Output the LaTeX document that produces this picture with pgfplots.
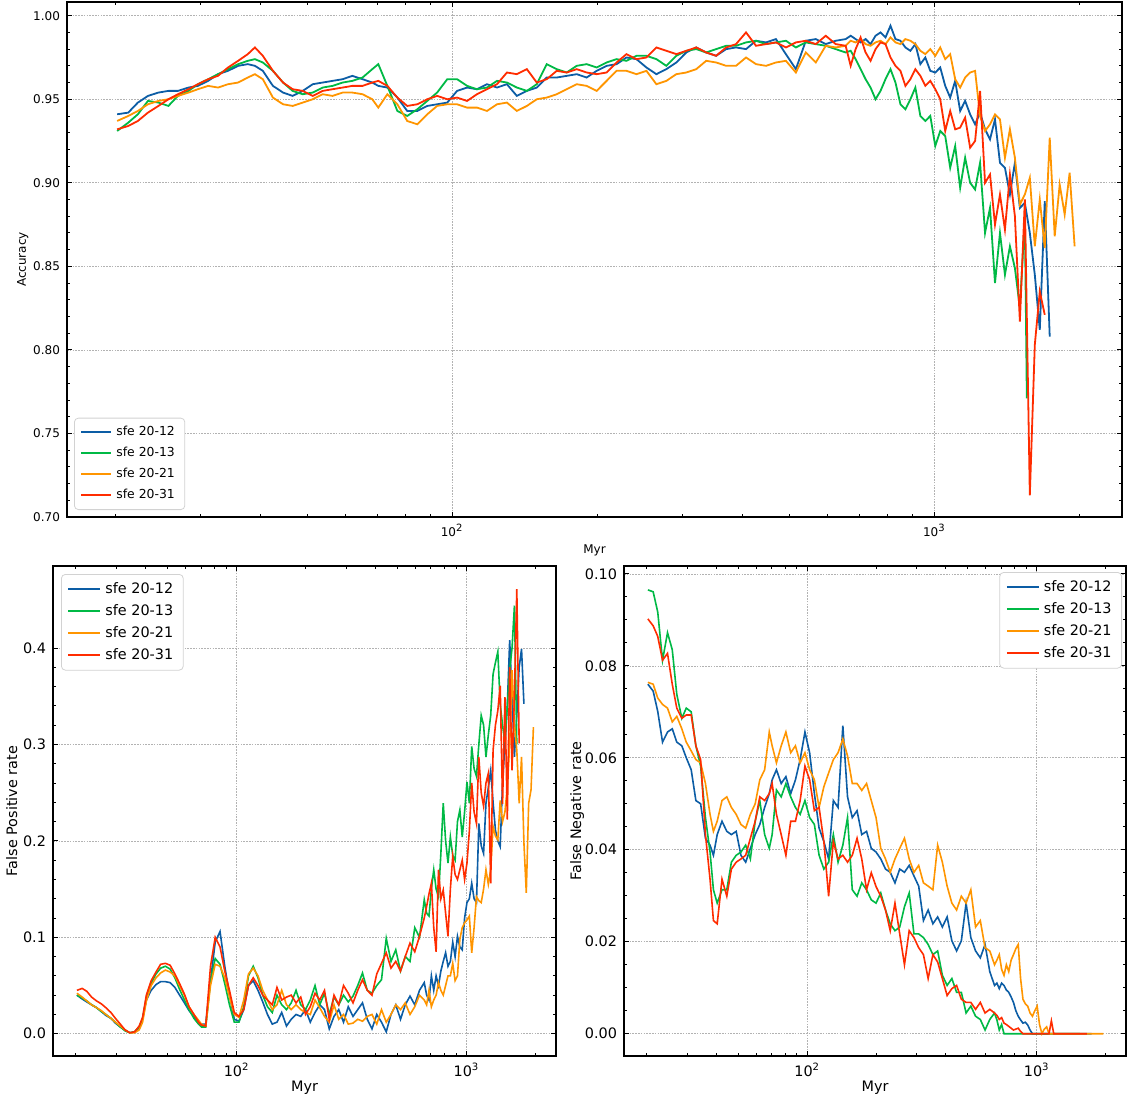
\documentclass[border=0pt]{standalone}
\usepackage{fontspec}
\setmainfont{DejaVu Sans}
\usepackage{pgfplots}
\usepackage{pgfplotstable}
\pgfplotsset{compat=1.18}
\pgfkeys{/pgf/number format/assume math mode=true}

\definecolor{cB}{HTML}{0C5DA5}
\definecolor{cG}{HTML}{00B945}
\definecolor{cO}{HTML}{FF9500}
\definecolor{cR}{HTML}{FF2C00}

% accuracy: x = Myr, b/g/o/r = sfe 20-12, 20-13, 20-21, 20-31
\pgfplotstableread{
x b g o r
20.2 .941 .931 .937 .932
21.3 .942 .936 .940 .934
22.3 .948 .941 .943 .937
23.4 .952 .949 .947 .942
24.6 .954 .948 .949 .946
25.8 .955 .946 .950 .950
27.0 .955 .952 .952 .953
28.4 .957 .955 .954 .956
29.7 .958 .959 .956 .959
31.2 .961 .962 .958 .962
32.7 .965 .965 .957 .964
34.3 .967 .968 .959 .969
36.0 .970 .971 .960 .973
37.7 .971 .973 .963 .977
39.0 .970 .974 .965 .981
40.5 .967 .972 .962 .976
42.5 .958 .967 .951 .967
44.6 .954 .960 .947 .960
46.7 .952 .955 .946 .956
49.0 .955 .953 .948 .955
51.4 .959 .954 .950 .952
53.9 .960 .957 .953 .955
56.5 .961 .958 .952 .956
59.3 .962 .960 .954 .957
62.1 .964 .961 .954 .958
65.2 .962 .963 .953 .958
68.3 .960 .968 .950 .960
70.3 .958 .971 .945 .961
73.4 .957 .958 .953 .958
77.0 .951 .943 .947 .951
80.7 .943 .940 .937 .946
84.7 .943 .944 .935 .947
88.8 .946 .949 .941 .950
93.1 .947 .954 .946 .952
97.7 .948 .962 .947 .950
102.4 .955 .962 .947 .951
107.4 .957 .958 .945 .949
112.6 .956 .956 .945 .953
118.1 .959 .957 .943 .956
123.9 .957 .961 .947 .959
129.9 .959 .960 .948 .966
136.2 .952 .957 .943 .965
142.9 .955 .955 .946 .968
149.8 .957 .959 .950 .960
157.1 .963 .971 .951 .962
164.8 .963 .968 .953 .967
172.8 .964 .966 .956 .966
181.3 .965 .970 .959 .968
190.1 .963 .971 .958 .966
199.4 .967 .969 .955 .965
209.1 .970 .972 .961 .966
219.3 .971 .974 .967 .972
229.9 .975 .973 .967 .977
241.1 .974 .976 .965 .974
252.9 .969 .976 .967 .975
265.2 .965 .974 .959 .981
278.1 .968 .970 .961 .979
291.7 .972 .976 .965 .977
305.9 .978 .979 .966 .979
320.8 .981 .980 .968 .981
336.4 .978 .978 .973 .978
352.8 .976 .980 .972 .976
370.0 .980 .982 .970 .981
388.0 .981 .982 .970 .983
406.9 .980 .984 .975 .990
426.7 .985 .985 .971 .982
447.5 .984 .983 .970 .983
469.3 .986 .984 .972 .984
492.2 .977 .985 .973 .981
516.2 .968 .981 .966 .984
541.3 .985 .984 .978 .985
567.7 .986 .983 .972 .983
595.4 .983 .982 .982 .988
624.4 .985 .980 .981 .983
654.8 .986 .978 .982 .982
670.6 .988 .979 .985 .970
686.7 .986 .974 .984 .980
703.2 .984 .968 .986 .987
720.2 .986 .962 .983 .978
737.5 .983 .957 .982 .973
755.2 .988 .950 .984 .980
773.4 .990 .955 .985 .984
792.0 .987 .962 .983 .983
811.0 .994 .968 .987 .975
830.5 .986 .960 .984 .970
850.5 .985 .947 .983 .967
870.9 .981 .944 .986 .958
891.9 .979 .950 .985 .962
913.3 .983 .957 .983 .968
935.3 .971 .940 .979 .964
957.8 .975 .937 .977 .958
980.8 .967 .940 .980 .961
1004.4 .966 .922 .976 .956
1028.5 .969 .931 .981 .950
1053.3 .958 .928 .974 .931
1078.6 .951 .909 .977 .943
1104.6 .961 .922 .962 .932
1131.1 .943 .897 .957 .933
1158.3 .949 .915 .963 .939
1186.2 .941 .900 .966 .921
1214.7 .935 .896 .967 .925
1243.9 .942 .912 .940 .955
1273.8 .932 .870 .931 .900
1304.5 .926 .885 .935 .905
1335.8 .938 .840 .941 .875
1367.9 .912 .870 .938 .893
1400.8 .909 .845 .915 .872
1434.5 .893 .862 .932 .905
1469.0 .912 .849 .915 .880
1504.4 .885 .825 .887 .817
1540.5 .888 .879 .893 .890
1555.2 nan .771 nan nan
1577.6 .870 nan .903 .713
1615.5 .845 nan .862 .803
1654.4 .812 nan .890 .835
1694.2 .889 nan .861 .821
1734.9 .808 nan .927 nan
1776.7 nan nan .868 nan
1819.4 nan nan .899 nan
1863.2 nan nan .881 nan
1908.0 nan nan .906 nan
1953.9 nan nan .862 nan
}\acc

% false positive rate
\pgfplotstableread{
x b g o r
20.2 .040 .040 .042 .045
21.3 .036 .037 .038 .047
22.3 .033 .034 .034 .044
23.4 .030 .030 .030 .038
24.6 .027 .027 .027 .034
25.8 .023 .023 .024 .031
27.0 .019 .020 .020 .027
28.4 .016 .016 .016 .022
29.7 .011 .012 .012 .016
31.2 .007 .007 .008 .010
32.7 .004 .003 .004 .004
34.3 .001 .001 .001 .001
36.0 .002 .002 .001 .002
37.7 .006 .007 .004 .008
39.0 .015 .016 .012 .017
40.5 .035 .038 .034 .040
42.5 .045 .052 .050 .055
44.6 .051 .062 .058 .064
46.7 .054 .068 .063 .072
49.0 .054 .070 .066 .073
51.4 .053 .067 .064 .071
53.9 .048 .058 .060 .062
56.5 .040 .046 .050 .052
59.3 .032 .035 .040 .041
62.1 .024 .025 .028 .028
65.2 .018 .016 .020 .020
68.3 .012 .010 .014 .012
70.3 .010 .007 .010 .009
73.4 .010 .007 .008 .008
77.0 .055 .055 .050 .070
80.7 .095 .078 .072 .100
84.7 .106 .072 .070 .090
88.8 .070 .052 .058 .065
93.1 .040 .030 .038 .045
97.7 .015 .012 .020 .022
102.4 .013 .012 .017 .018
107.4 .025 .028 .035 .025
112.6 .050 .060 .062 .050
118.1 .055 .070 .068 .058
123.9 .045 .058 .060 .050
129.9 .033 .040 .045 .040
136.2 .020 .028 .035 .035
142.9 .010 .022 .025 .030
149.8 .012 .040 .030 .048
157.1 .022 .030 .045 .035
164.8 .008 .025 .030 .038
172.8 .015 .032 .025 .040
181.3 .020 .045 .030 .032
190.1 .018 .030 .025 .038
199.4 .025 .025 .022 .020
209.1 .012 .035 .020 .028
219.3 .022 .050 .035 .042
229.9 .030 .030 .027 .035
241.1 .025 .042 .018 .045
252.9 .005 .020 .012 .015
265.2 .018 .038 .030 .040
278.1 .025 .030 .015 .030
291.7 .012 .040 .020 .050
305.9 .028 .033 .010 .042
320.8 .018 .039 .011 .032
336.4 .025 .050 .015 .045
352.8 .032 .063 .013 .056
370.0 .015 .045 .018 .045
388.0 .005 .042 .020 .040
406.9 .020 .050 .010 .062
426.7 .012 .056 .025 .073
447.5 .002 .099 .012 .084
469.3 .020 .075 .020 .068
492.2 .030 .087 .030 .075
516.2 .015 .065 .025 .065
541.3 .030 .080 .032 .080
567.7 .039 .075 .020 .094
595.4 .030 .110 .028 .085
624.4 .045 .100 .040 .101
654.8 .053 .139 .035 .120
670.6 .040 .125 .030 .132
686.7 .035 .122 .045 .145
703.2 .060 .150 .028 .156
720.2 .045 .170 .035 .110
737.5 .060 .150 .040 .085
755.2 .050 .142 .053 .170
773.4 .065 .187 .045 .140
792.0 .075 .239 .040 .149
811.0 .084 .200 .050 .125
830.5 .070 .177 .060 .101
850.5 .075 .204 .060 .150
870.9 .095 .185 .073 .184
891.9 .080 .180 .055 .165
913.3 .101 .220 .060 .160
935.3 .090 .232 .098 .170
957.8 .087 .204 .110 .180
980.8 .120 .230 .115 .160
1004.4 .136 .261 .118 .177
1028.5 .140 .239 .122 .210
1053.3 .156 .298 .084 .260
1078.6 .140 .275 .110 .230
1104.6 .136 .267 .142 .218
1131.1 .218 .300 .138 .287
1158.3 .195 .330 .136 .250
1186.2 .187 .320 .150 .236
1214.7 .239 .287 .170 .260
1243.9 .255 .310 .155 .270
1273.8 .273 .330 .170 .156
1304.5 .240 .373 .215 .294
1335.8 .211 .385 .205 .320
1367.9 .200 .396 .201 .335
1400.8 .194 .342 .242 .361
1434.5 .260 .320 .220 .238
1469.0 .300 .301 .230 .349
1504.4 .340 .340 .256 .222
1540.5 .408 .377 .300 .380
1577.6 .349 .400 .377 .273
1615.5 .287 .444 .320 .350
1654.4 .330 .300 .294 .461
1694.2 .380 nan .239 .301
1734.9 .399 nan .287 nan
1776.7 .342 nan .198 nan
1819.4 nan nan .146 nan
1863.2 nan nan .239 nan
1908.0 nan nan .253 nan
1953.9 nan nan .318 nan
}\fpr

% false negative rate
\pgfplotstableread{
x b g o r
20.2 .0760 .0965 .0764 .0902
21.3 .0745 .0961 .0760 .0887
22.3 .0701 .0917 .0730 .0864
23.4 .0634 .0812 .0716 .0812
24.6 .0656 .0872 .0708 .0827
25.8 .0663 .0835 .0678 .0760
27.0 .0634 .0738 .0690 .0708
28.4 .0626 .0686 .0663 .0686
29.7 .0600 .0708 .0634 .0693
31.2 .0574 .0700 .0615 .0693
32.7 .0507 .0626 .0596 .0626
34.3 .0500 .0582 .0589 .0596
36.0 .0425 .0470 .0544 .0433
37.7 .0410 .0395 .0477 .0336
39.0 .0388 .0313 .0440 .0246
40.5 .0433 .0284 .0462 .0239
42.5 .0462 .0313 .0507 .0336
44.6 .0440 .0313 .0515 .0299
46.7 .0433 .0373 .0492 .0358
49.0 .0440 .0388 .0477 .0373
51.4 .0388 .0395 .0455 .0380
53.9 .0373 .0410 .0447 .0388
56.5 .0403 .0380 .0477 .0425
59.3 .0433 .0462 .0500 .0462
62.1 .0455 .0507 .0552 .0515
65.2 .0492 .0433 .0574 .0507
68.3 .0522 .0403 .0656 .0522
70.3 .0552 .0433 .0626 .0544
73.4 .0574 .0530 .0589 .0477
77.0 .0544 .0515 .0626 .0433
80.7 .0559 .0544 .0656 .0388
84.7 .0522 .0515 .0611 .0462
88.8 .0552 .0492 .0626 .0462
93.1 .0596 .0477 .0589 .0507
97.7 .0656 .0507 .0611 .0582
102.4 .0611 .0470 .0574 .0552
107.4 .0522 .0455 .0552 .0485
112.6 .0447 .0388 .0492 .0492
118.1 .0418 .0358 .0537 .0418
123.9 .0380 .0373 .0567 .0299
129.9 .0507 .0433 .0596 .0418
136.2 .0492 .0373 .0611 .0380
142.9 .0670 .0410 .0641 .0388
149.8 .0515 .0470 .0604 .0373
157.1 .0470 .0313 .0544 .0388
164.8 .0485 .0299 .0544 .0425
172.8 .0433 .0328 .0529 .0380
181.3 .0440 .0313 .0544 .0313
190.1 .0403 .0291 .0507 .0350
199.4 .0395 .0284 .0470 .0320
209.1 .0380 .0306 .0403 .0299
219.3 .0358 .0269 .0380 .0269
229.9 .0351 .0239 .0351 .0224
241.1 .0328 .0224 .0380 .0284
252.9 .0358 .0232 .0403 .0217
265.2 .0351 .0276 .0425 .0150
278.1 .0366 .0306 .0380 .0224
291.7 .0343 .0217 .0351 .0209
305.9 .0321 .0217 .0366 .0187
320.8 .0246 .0209 .0328 .0172
336.4 .0269 .0194 .0321 .0120
352.8 .0239 .0172 .0313 .0172
370.0 .0254 .0180 .0410 .0156
388.0 .0232 .0127 .0373 .0120
406.9 .0254 .0105 .0321 .0083
426.7 .0202 .0120 .0284 .0098
447.5 .0180 .0090 .0269 .0105
469.3 .0202 .0090 .0299 .0075
492.2 .0284 .0045 .0284 .0068
516.2 .0209 .0060 .0313 .0068
541.3 .0180 .0038 .0232 .0053
567.7 .0165 .0031 .0246 .0068
595.4 .0194 .0008 .0187 .0045
624.4 .0135 .0031 .0180 .0053
654.8 .0105 .0045 .0150 .0045
670.6 .0110 .0030 .0160 .0040
686.7 .0098 .0008 .0172 .0031
703.2 .0110 .0020 .0140 .0035
720.2 .0105 .0000 .0127 .0023
737.5 .0095 .0000 .0150 .0020
755.2 .0090 .0000 .0135 .0016
773.4 .0080 .0000 .0160 .0012
792.0 .0068 .0000 .0172 .0008
811.0 .0050 .0000 .0185 .0010
830.5 .0038 .0000 .0194 .0012
850.5 .0030 .0000 .0120 .0005
870.9 .0023 .0000 .0075 .0000
891.9 .0025 .0000 .0065 .0000
913.3 .0019 .0000 .0060 .0000
935.3 .0008 .0000 .0045 .0000
957.8 .0000 .0000 .0038 .0000
980.8 .0000 .0000 .0050 .0000
1004.4 .0000 .0000 .0060 .0000
1028.5 .0000 .0000 .0020 .0000
1053.3 .0000 .0000 .0000 .0000
1078.6 .0000 .0000 .0010 .0000
1104.6 .0000 .0000 .0015 .0000
1131.1 .0000 .0000 .0000 .0000
1158.3 .0000 .0000 .0000 .0028
1186.2 .0000 .0000 .0000 .0000
1243.9 .0000 .0000 .0000 .0000
1367.9 .0000 .0000 .0000 .0000
1540.5 .0000 .0000 .0000 .0000
1654.4 .0000 nan .0000 .0000
1734.9 .0000 nan .0000 nan
1953.9 nan nan .0000 nan
}\fnr

\pgfplotsset{
  every axis/.append style={
    scale only axis,
    xmin=15.9, xmax=2450,
    xtick={100,1000},
    xticklabels={10\textsuperscript{2},10\textsuperscript{3}},
    minor xtick={20,30,40,50,60,70,80,90,200,300,400,500,600,700,800,900,2000},
    tick align=inside,
    major tick length=2.5pt, minor tick length=1.4pt,
    every tick/.style={black, line width=0.45pt},
    axis line style={black, line width=0.6pt},
    grid=major,
    major grid style={gray!60, line width=0.3pt, dash pattern=on 0.8pt off 0.6pt},
    scaled y ticks=false,
    xlabel={Myr},
    legend cell align=left,
  },
}

\begin{document}
\begin{tikzpicture}
\path[use as bounding box] (0,0) rectangle (563.5pt,549.5pt);

\begin{semilogxaxis}[
  at={(33.5pt,291pt)}, anchor=south west,
  width=527.5pt, height=257.5pt,
  ymin=0.70, ymax=1.0082,
  ytick={0.70,0.75,0.80,0.85,0.90,0.95,1.00}, minor y tick num=4,
  yticklabel style={/pgf/number format/fixed, /pgf/number format/fixed zerofill, /pgf/number format/precision=2},
  tick label style={font=\fontsize{6}{7}\selectfont},
  label style={font=\fontsize{6}{7}\selectfont},
  ylabel={Accuracy}, ylabel shift=-4.5pt, xlabel shift=-3pt,
  legend image code/.code={\draw[#1, line width=1pt] (0pt,0pt) -- (15pt,0pt);},
  legend style={font=\fontsize{6.2}{7.5}\selectfont, at={(0,0)}, anchor=south west,
    xshift=3.5pt, yshift=3.5pt, row sep=0.3pt, draw=gray!35, rounded corners=2pt,
    fill=white},
]
\addplot[cB, line width=0.9pt] table[x=x, y=b] {\acc};
\addplot[cG, line width=0.9pt] table[x=x, y=g] {\acc};
\addplot[cO, line width=0.9pt] table[x=x, y=o] {\acc};
\addplot[cR, line width=0.9pt] table[x=x, y=r] {\acc};
\legend{sfe 20-12, sfe 20-13, sfe 20-21, sfe 20-31}
\end{semilogxaxis}

\begin{semilogxaxis}[
  at={(26.5pt,21.5pt)}, anchor=south west,
  width=251.5pt, height=245pt,
  ymin=-0.0231, ymax=0.485,
  ytick={0,0.1,0.2,0.3,0.4}, minor y tick num=4,
  yticklabel style={/pgf/number format/fixed, /pgf/number format/fixed zerofill, /pgf/number format/precision=1},
  tick label style={font=\fontsize{7.2}{8.5}\selectfont},
  label style={font=\fontsize{7.2}{8.5}\selectfont},
  ylabel={False Positive rate}, ylabel shift=-4pt, xlabel shift=-5pt,
  legend image code/.code={\draw[#1, line width=1pt] (0pt,0pt) -- (16pt,0pt);},
  legend style={font=\fontsize{7.2}{8.5}\selectfont, at={(0,1)}, anchor=north west,
    xshift=4pt, yshift=-4pt, row sep=0pt, draw=gray!35, rounded corners=2pt,
    fill=white},
]
\addplot[cB, line width=0.8pt] table[x=x, y=b] {\fpr};
\addplot[cG, line width=0.8pt] table[x=x, y=g] {\fpr};
\addplot[cO, line width=0.8pt] table[x=x, y=o] {\fpr};
\addplot[cR, line width=0.8pt] table[x=x, y=r] {\fpr};
\legend{sfe 20-12, sfe 20-13, sfe 20-21, sfe 20-31}
\end{semilogxaxis}

\begin{semilogxaxis}[
  at={(312pt,21.5pt)}, anchor=south west,
  width=251pt, height=245pt,
  ymin=-0.00485, ymax=0.1017,
  ytick={0,0.02,0.04,0.06,0.08,0.10}, minor y tick num=3,
  yticklabel style={/pgf/number format/fixed, /pgf/number format/fixed zerofill, /pgf/number format/precision=2},
  tick label style={font=\fontsize{7.2}{8.5}\selectfont},
  label style={font=\fontsize{7.2}{8.5}\selectfont},
  ylabel={False Negative rate}, ylabel shift=-6.5pt, xlabel shift=-5pt,
  legend image code/.code={\draw[#1, line width=1pt] (0pt,0pt) -- (16pt,0pt);},
  legend style={font=\fontsize{7.2}{8.5}\selectfont, at={(1,1)}, anchor=north east,
    xshift=-2pt, yshift=-3pt, row sep=0pt, draw=gray!35, rounded corners=2pt,
    fill=white},
]
\addplot[cB, line width=0.8pt] table[x=x, y=b] {\fnr};
\addplot[cG, line width=0.8pt] table[x=x, y=g] {\fnr};
\addplot[cO, line width=0.8pt] table[x=x, y=o] {\fnr};
\addplot[cR, line width=0.8pt] table[x=x, y=r] {\fnr};
\legend{sfe 20-12, sfe 20-13, sfe 20-21, sfe 20-31}
\end{semilogxaxis}
\end{tikzpicture}
\end{document}
